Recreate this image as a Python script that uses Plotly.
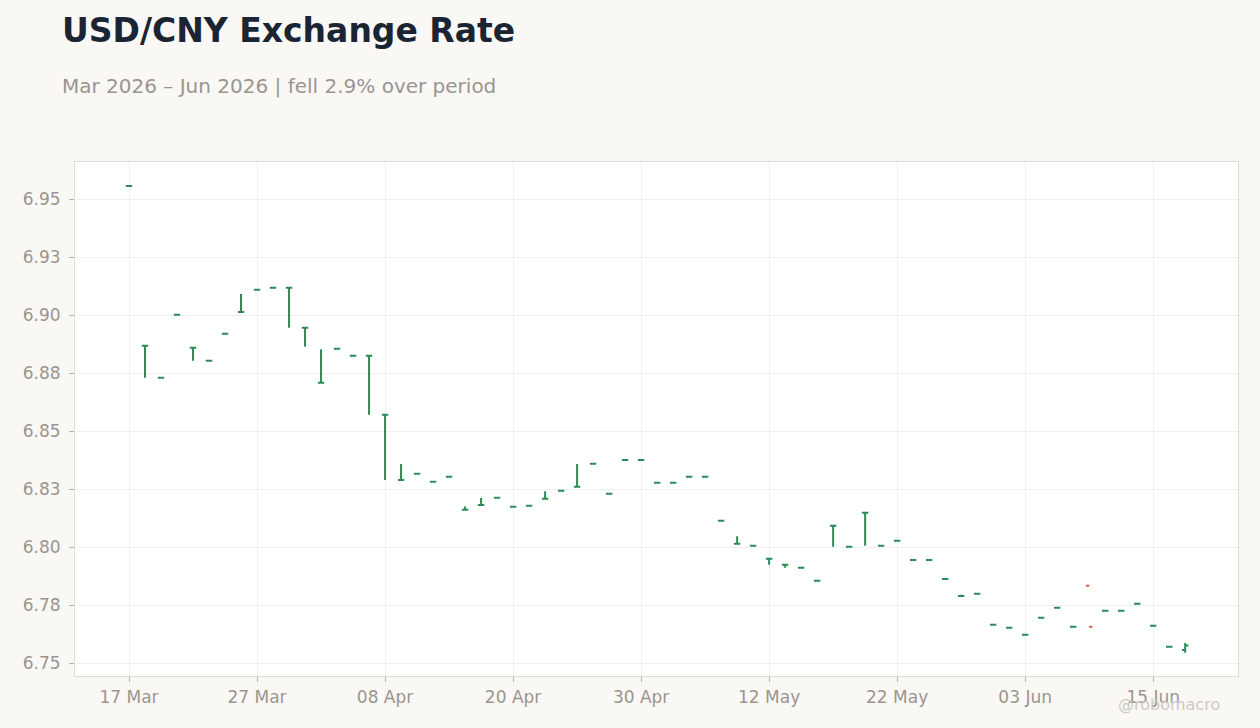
import pandas as pd
import plotly.graph_objects as go

# trading days shown on the chart (weekends skipped)
dates = pd.bdate_range("2026-03-17", "2026-06-17")
days = [d.strftime("%Y-%m-%d") for d in dates]

open_ = [6.9556, 6.8868, 6.8730, 6.9001, 6.8859, 6.8803, 6.8919, 6.9013, 6.9109, 6.9118,
         6.9118, 6.8945, 6.8708, 6.8855, 6.8825, 6.8825, 6.8570, 6.8289, 6.8316, 6.8281,
         6.8303, 6.8161, 6.8181, 6.8213, 6.8174, 6.8178, 6.8208, 6.8243, 6.8260, 6.8359,
         6.8230, 6.8375, 6.8375, 6.8277, 6.8277, 6.8303, 6.8303, 6.8113, 6.8014, 6.8006,
         6.7950, 6.7924, 6.7911, 6.7855, 6.8092, 6.8001, 6.8148, 6.8006, 6.8027, 6.7944,
         6.7944, 6.7862, 6.7789, 6.7799, 6.7665, 6.7652, 6.7622, 6.7695, 6.7738, 6.7656,
         6.7833, 6.7725, 6.7725, 6.7756, 6.7661, 6.7570, 6.7556]
high = [6.9556, 6.8868, 6.8730, 6.9001, 6.8859, 6.8803, 6.8919, 6.9091, 6.9109, 6.9118,
        6.9118, 6.8945, 6.8853, 6.8855, 6.8825, 6.8825, 6.8570, 6.8358, 6.8316, 6.8281,
        6.8303, 6.8175, 6.8211, 6.8213, 6.8174, 6.8178, 6.8241, 6.8243, 6.8358, 6.8359,
        6.8230, 6.8375, 6.8375, 6.8277, 6.8277, 6.8303, 6.8303, 6.8113, 6.8047, 6.8006,
        6.7950, 6.7924, 6.7911, 6.7855, 6.8092, 6.8001, 6.8148, 6.8006, 6.8027, 6.7944,
        6.7944, 6.7862, 6.7794, 6.7799, 6.7665, 6.7652, 6.7622, 6.7695, 6.7738, 6.7656,
        6.7656, 6.7725, 6.7725, 6.7756, 6.7661, 6.7570, 6.7586]
low = [6.9556, 6.8730, 6.8730, 6.9001, 6.8803, 6.8803, 6.8919, 6.9013, 6.9109, 6.9118,
       6.8945, 6.8863, 6.8708, 6.8855, 6.8825, 6.8570, 6.8289, 6.8289, 6.8316, 6.8281,
       6.8303, 6.8161, 6.8181, 6.8213, 6.8174, 6.8178, 6.8208, 6.8243, 6.8260, 6.8359,
       6.8230, 6.8375, 6.8375, 6.8277, 6.8277, 6.8303, 6.8303, 6.8113, 6.8014, 6.8006,
       6.7924, 6.7911, 6.7911, 6.7855, 6.8001, 6.8001, 6.8006, 6.8006, 6.8027, 6.7944,
       6.7944, 6.7862, 6.7789, 6.7799, 6.7665, 6.7652, 6.7622, 6.7695, 6.7738, 6.7656,
       6.7656, 6.7725, 6.7725, 6.7756, 6.7661, 6.7570, 6.7544]
close = [6.9556, 6.8868, 6.8730, 6.9001, 6.8859, 6.8803, 6.8919, 6.9013, 6.9109, 6.9118,
         6.9118, 6.8945, 6.8708, 6.8855, 6.8825, 6.8825, 6.8570, 6.8289, 6.8316, 6.8281,
         6.8303, 6.8161, 6.8181, 6.8213, 6.8174, 6.8178, 6.8208, 6.8243, 6.8260, 6.8359,
         6.8230, 6.8375, 6.8375, 6.8277, 6.8277, 6.8303, 6.8303, 6.8113, 6.8014, 6.8006,
         6.7950, 6.7924, 6.7911, 6.7855, 6.8092, 6.8001, 6.8148, 6.8006, 6.8027, 6.7944,
         6.7944, 6.7862, 6.7789, 6.7799, 6.7665, 6.7652, 6.7622, 6.7695, 6.7738, 6.7656,
         6.7656, 6.7725, 6.7725, 6.7756, 6.7661, 6.7570, 6.7575]

# y tick labels as printed on the chart
y_ticks = [6.75, 6.775, 6.80, 6.825, 6.85, 6.875, 6.90, 6.925, 6.95]
y_labels = ["6.75", "6.78", "6.80", "6.83", "6.85", "6.88", "6.90", "6.93", "6.95"]

GREEN = "#2e8b57"
RED = "#d5603c"
GREY = "#9a958f"
FONT = "DejaVu Sans"

# split bars: falling days in red, everything else green
down = [c < o for o, c in zip(open_, close)]
up = [not d for d in down]

def pick(vals, keep):
    return [v if k else None for v, k in zip(vals, keep)]

fig = go.Figure()
fig.add_trace(go.Ohlc(
    x=days, open=pick(open_, up), high=pick(high, up), low=pick(low, up), close=pick(close, up),
    increasing=dict(line=dict(color=GREEN, width=2)),
    decreasing=dict(line=dict(color=GREEN, width=2)),
    tickwidth=0.2, showlegend=False, hoverinfo="skip",
))
fig.add_trace(go.Ohlc(
    x=[d for d, k in zip(days, down) if k],
    open=[v for v, k in zip(open_, down) if k],
    high=[v for v, k in zip(high, down) if k],
    low=[v for v, k in zip(low, down) if k],
    close=[v for v, k in zip(close, down) if k],
    increasing=dict(line=dict(color=RED, width=2)),
    decreasing=dict(line=dict(color=RED, width=2)),
    tickwidth=0.2, showlegend=False, hoverinfo="skip",
))

tick_days = days[::8]
tick_text = [pd.Timestamp(d).strftime("%d %b") for d in tick_days]

fig.update_layout(
    width=1260, height=728,
    margin=dict(l=75, r=22, t=162, b=52),
    paper_bgcolor="#f9f8f5", plot_bgcolor="#ffffff",
    font=dict(family=FONT, size=17, color=GREY),
    showlegend=False,
    annotations=[
        dict(text="<b>USD/CNY Exchange Rate</b>", xref="paper", yref="paper",
             x=-0.0125, y=1.2568, xanchor="left", yanchor="middle", showarrow=False,
             font=dict(family=FONT, size=33, color="#1b2433")),
        dict(text="Mar 2026 – Jun 2026 | fell 2.9% over period", xref="paper", yref="paper",
             x=-0.0125, y=1.1479, xanchor="left", yanchor="middle", showarrow=False,
             font=dict(family=FONT, size=20, color=GREY)),
        dict(text="@robomacro", xref="paper", yref="paper",
             x=0.9862, y=-0.0564, xanchor="right", yanchor="middle", showarrow=False,
             font=dict(family=FONT, size=16, color="#cfcac4")),
    ],
)
fig.update_xaxes(
    type="category", range=[-3.375, 69.3],
    tickvals=tick_days, ticktext=tick_text, ticklabelstandoff=1,
    showgrid=True, gridcolor="#efefef", gridwidth=1,
    ticks="outside", ticklen=5, tickcolor="#b5b0aa",
    showline=True, linecolor="#e0dbd2", linewidth=1, mirror=True,
    rangeslider=dict(visible=False), zeroline=False,
)
fig.update_yaxes(
    range=[6.7444, 6.966], tickvals=y_ticks, ticktext=y_labels, ticklabelstandoff=5,
    showgrid=True, gridcolor="#efefef", gridwidth=1,
    ticks="outside", ticklen=5, tickcolor="#b5b0aa",
    showline=True, linecolor="#e0dbd2", linewidth=1, mirror=True,
    zeroline=False,
)

fig.write_html("out.html", config={"displayModeBar": False},
               post_script="document.body.style.margin='0';")
